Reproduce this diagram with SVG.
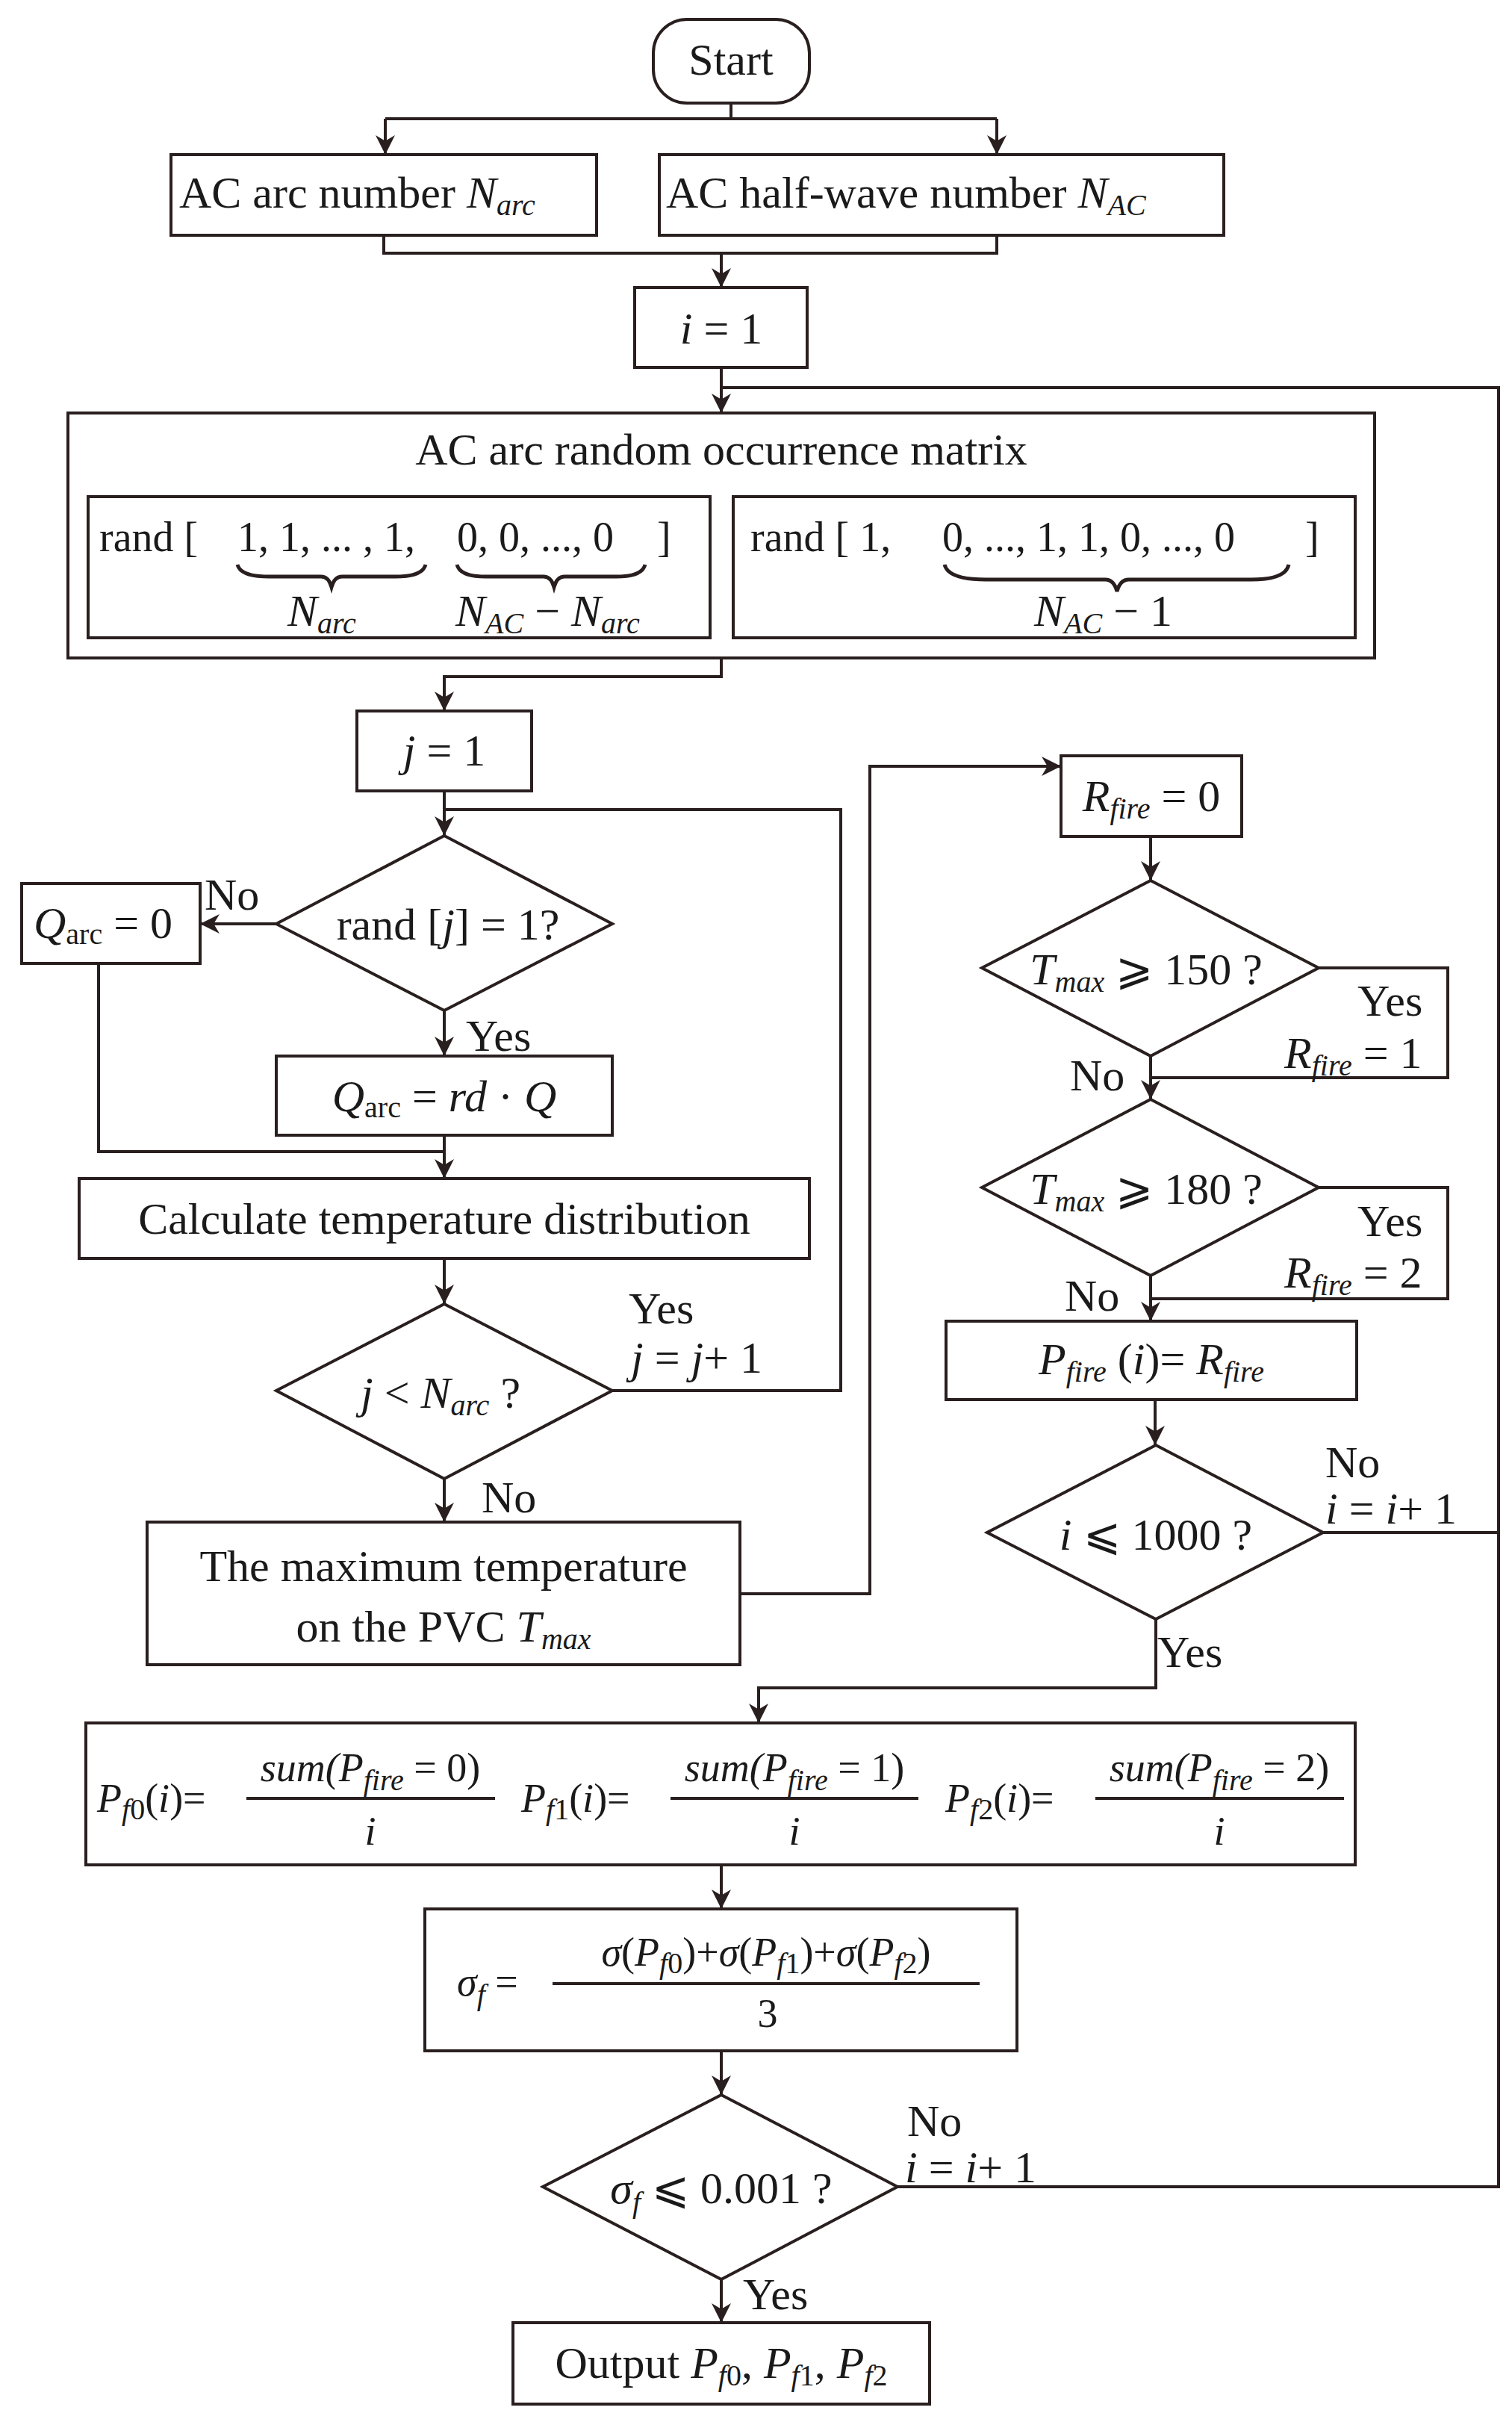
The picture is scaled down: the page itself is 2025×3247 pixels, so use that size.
<svg xmlns="http://www.w3.org/2000/svg" width="2025" height="3247" viewBox="0 0 2025 3247">
<defs>
<marker id="ah" viewBox="0 0 10 10" refX="10" refY="5" markerWidth="26" markerHeight="26" markerUnits="userSpaceOnUse" orient="auto"><path d="M0,0 L10,5 L0,10 L3,5 z" fill="#2a1f1f"/></marker>
<style>
.b{fill:#fff;stroke:#2a1f1f;stroke-width:4}
.c{fill:none;stroke:#2a1f1f;stroke-width:4}
.l{fill:none;stroke:#2a1f1f;stroke-width:4}
text{font-family:"Liberation Serif","Times New Roman",serif;font-size:60px;fill:#1a1a1a}
.m{text-anchor:middle}
.i{font-style:italic}
.s{font-size:40px;font-style:italic}
.f{font-size:54px}
</style>
</defs>
<g id="connectors">
<path class="l" d="M979,138 V159 M516,159 H1335"/>
<path class="c" marker-end="url(#ah)" d="M516,159 V207"/>
<path class="c" marker-end="url(#ah)" d="M1335,159 V207"/>
<path class="l" d="M514,315 V339 H1335 V315"/>
<path class="c" marker-end="url(#ah)" d="M966,339 V385"/>
<path class="c" marker-end="url(#ah)" d="M966,492 V553"/>
<path class="l" d="M966,519 H2007 V2928 H1202"/>
<path class="l" d="M1772,2052 H2007"/>
<path class="c" marker-end="url(#ah)" d="M966,881 V906 H595 V952"/>
<path class="c" marker-end="url(#ah)" d="M595,1059 V1119"/>
<path class="l" d="M595,1084 H1126 V1862 H820"/>
<path class="c" marker-end="url(#ah)" d="M370,1237 H268"/>
<path class="c" marker-end="url(#ah)" d="M595,1353 V1414"/>
<path class="l" d="M132,1290 V1542 H595"/>
<path class="c" marker-end="url(#ah)" d="M595,1520 V1578"/>
<path class="c" marker-end="url(#ah)" d="M595,1685 V1746"/>
<path class="c" marker-end="url(#ah)" d="M595,1980 V2038"/>
<path class="c" marker-end="url(#ah)" d="M991,2134 H1165 V1026 H1421"/>
<path class="c" marker-end="url(#ah)" d="M1541,1120 V1179"/>
<path class="c" marker-end="url(#ah)" d="M1541,1414 V1472"/>
<path class="l" d="M1766,1296 H1939 V1443 H1541"/>
<path class="c" marker-end="url(#ah)" d="M1541,1708 V1769"/>
<path class="l" d="M1766,1590 H1939 V1739 H1541"/>
<path class="c" marker-end="url(#ah)" d="M1547,1874 V1935"/>
<path class="c" marker-end="url(#ah)" d="M1548,2168 V2260 H1016 V2307"/>
<path class="c" marker-end="url(#ah)" d="M966,2497 V2556"/>
<path class="c" marker-end="url(#ah)" d="M966,2746 V2805"/>
<path class="c" marker-end="url(#ah)" d="M966,3052 V3110"/>
</g>
<g id="start"><rect class="b" x="875" y="26" width="209" height="112" rx="45"/><text class="m" x="979" y="100">Start</text></g>
<g id="narc"><rect class="b" x="229" y="207" width="570" height="108"/><text x="240" y="278">AC arc number <tspan class="i">N</tspan><tspan class="s" dy="10">arc</tspan></text></g>
<g id="nac"><rect class="b" x="883" y="207" width="756" height="108"/><text x="892" y="278">AC half-wave number <tspan class="i">N</tspan><tspan class="s" dy="10">AC</tspan></text></g>
<g id="i1"><rect class="b" x="850" y="385" width="231" height="107"/><text class="m" x="966" y="460"><tspan class="i">i</tspan> = 1</text></g>
<g id="matrix"><rect class="b" x="91" y="553" width="1750" height="328"/>
<text class="m" x="966" y="622">AC arc random occurrence matrix</text>
<rect class="b" x="118" y="665" width="833" height="189"/>
<rect class="b" x="982" y="665" width="833" height="189"/>
<text x="133" y="738" style="font-size:56px">rand [<tspan x="318">1, 1, ... , 1,</tspan><tspan x="612">0, 0, ..., 0</tspan><tspan x="880">]</tspan></text>
<text x="1005" y="738" style="font-size:56px">rand [ 1,<tspan x="1262">0, ..., 1, 1, 0, ..., 0</tspan><tspan x="1748">]</tspan></text>
<path class="l" style="stroke-width:5" d="M318,756 Q322,772 360,772 H430 Q440,772 444,786 Q448,772 458,772 H530 Q566,772 570,756 M612,756 Q616,772 650,772 H728 Q738,772 742,786 Q746,772 756,772 H826 Q860,772 864,756 M1265,756 Q1270,776 1320,776 H1480 Q1492,776 1496,792 Q1500,776 1512,776 H1676 Q1722,776 1726,756"/>
<text x="385" y="838" class="i">N<tspan class="s" dy="10">arc</tspan></text>
<text x="610" y="838"><tspan class="i">N</tspan><tspan class="s" dy="10">AC</tspan><tspan dy="-10"> − </tspan><tspan class="i">N</tspan><tspan class="s" dy="10">arc</tspan></text>
<text x="1385" y="838"><tspan class="i">N</tspan><tspan class="s" dy="10">AC</tspan><tspan dy="-10"> − 1</tspan></text>
</g>
<g id="j1"><rect class="b" x="478" y="952" width="234" height="107"/><text class="m" x="595" y="1025"><tspan class="i">j</tspan> = 1</text></g>
<g id="randj"><path class="b" d="M595,1119 L820,1237 L595,1353 L370,1237 z"/><text class="m" x="600" y="1258">rand [<tspan class="i">j</tspan>] = 1?</text></g>
<text x="274" y="1218">No</text>
<text x="624" y="1407">Yes</text>
<g id="q0"><rect class="b" x="29" y="1183" width="239" height="107"/><text x="45" y="1256"><tspan class="i">Q</tspan><tspan style="font-size:40px" dy="8">arc</tspan><tspan dy="-8"> = 0</tspan></text></g>
<g id="qrd"><rect class="b" x="370" y="1414" width="450" height="106"/><text class="m" x="595" y="1488"><tspan class="i">Q</tspan><tspan style="font-size:40px" dy="8">arc</tspan><tspan dy="-8"> = </tspan><tspan class="i">rd</tspan> · <tspan class="i">Q</tspan></text></g>
<g id="calc"><rect class="b" x="106" y="1578" width="978" height="107"/><text class="m" x="595" y="1652">Calculate temperature distribution</text></g>
<g id="jlt"><path class="b" d="M595,1746 L820,1862 L595,1980 L370,1862 z"/><text class="m" x="590" y="1885"><tspan class="i">j</tspan> &lt; <tspan class="i">N</tspan><tspan class="s" dy="10">arc</tspan><tspan dy="-10"> ?</tspan></text></g>
<text x="842" y="1772">Yes</text>
<text x="845" y="1838"><tspan class="i">j</tspan> = <tspan class="i">j</tspan>+ 1</text>
<text x="645" y="2025">No</text>
<g id="tmax"><rect class="b" x="197" y="2038" width="794" height="191"/><text class="m" x="594" y="2117">The maximum temperature</text><text class="m" x="594" y="2198">on the PVC <tspan class="i">T</tspan><tspan class="s" dy="10">max</tspan></text></g>
<g id="rfire0"><rect class="b" x="1421" y="1012" width="242" height="108"/><text class="m" x="1542" y="1086"><tspan class="i">R</tspan><tspan class="s" dy="10">fire</tspan><tspan dy="-10"> = 0</tspan></text></g>
<g id="t150"><path class="b" d="M1541,1179 L1766,1296 L1541,1414 L1315,1296 z"/><text class="m" x="1535" y="1318"><tspan class="i">T</tspan><tspan class="s" dy="10">max</tspan><tspan dy="-10"> ⩾ 150 ?</tspan></text></g>
<text x="1818" y="1360">Yes</text>
<text x="1720" y="1430"><tspan class="i">R</tspan><tspan class="s" dy="10">fire</tspan><tspan dy="-10"> = 1</tspan></text>
<text x="1433" y="1460">No</text>
<g id="t180"><path class="b" d="M1541,1472 L1766,1590 L1541,1708 L1315,1590 z"/><text class="m" x="1535" y="1612"><tspan class="i">T</tspan><tspan class="s" dy="10">max</tspan><tspan dy="-10"> ⩾ 180 ?</tspan></text></g>
<text x="1818" y="1655">Yes</text>
<text x="1720" y="1724"><tspan class="i">R</tspan><tspan class="s" dy="10">fire</tspan><tspan dy="-10"> = 2</tspan></text>
<text x="1426" y="1755">No</text>
<g id="pfire"><rect class="b" x="1267" y="1769" width="550" height="105"/><text class="m" x="1542" y="1840"><tspan class="i">P</tspan><tspan class="s" dy="10">fire</tspan><tspan dy="-10"> (</tspan><tspan class="i">i</tspan>)= <tspan class="i">R</tspan><tspan class="s" dy="10">fire</tspan></text></g>
<g id="i1000"><path class="b" d="M1548,1935 L1772,2052 L1548,2168 L1322,2052 z"/><text class="m" x="1548" y="2075"><tspan class="i">i</tspan> ⩽ 1000 ?</text></g>
<text x="1775" y="1978">No</text>
<text x="1775" y="2040"><tspan class="i">i</tspan> = <tspan class="i">i</tspan>+ 1</text>
<text x="1550" y="2232">Yes</text>
<g id="pf"><rect class="b" x="115" y="2307" width="1700" height="190"/>
<text class="f" x="130" y="2426"><tspan class="i">P</tspan><tspan class="s" dy="10">f</tspan><tspan style="font-size:40px">0</tspan><tspan dy="-10">(</tspan><tspan class="i">i</tspan>)=</text>
<text class="f m i" x="496" y="2385">sum(P<tspan class="s" dy="12">fire</tspan><tspan dy="-12" style="font-style:normal"> = 0)</tspan></text>
<path class="l" d="M330,2408 H663"/><text class="f m i" x="496" y="2470">i</text>
<text class="f" x="698" y="2426"><tspan class="i">P</tspan><tspan class="s" dy="10">f</tspan><tspan style="font-size:40px">1</tspan><tspan dy="-10">(</tspan><tspan class="i">i</tspan>)=</text>
<text class="f m i" x="1064" y="2385">sum(P<tspan class="s" dy="12">fire</tspan><tspan dy="-12" style="font-style:normal"> = 1)</tspan></text>
<path class="l" d="M898,2408 H1230"/><text class="f m i" x="1064" y="2470">i</text>
<text class="f" x="1266" y="2426"><tspan class="i">P</tspan><tspan class="s" dy="10">f</tspan><tspan style="font-size:40px">2</tspan><tspan dy="-10">(</tspan><tspan class="i">i</tspan>)=</text>
<text class="f m i" x="1633" y="2385">sum(P<tspan class="s" dy="12">fire</tspan><tspan dy="-12" style="font-style:normal"> = 2)</tspan></text>
<path class="l" d="M1467,2408 H1800"/><text class="f m i" x="1633" y="2470">i</text>
</g>
<g id="sigma"><rect class="b" x="569" y="2556" width="793" height="190"/>
<text class="f" x="612" y="2672"><tspan class="i">σ</tspan><tspan class="s" dy="12">f</tspan><tspan dy="-12"> =</tspan></text>
<text class="f m" x="1026" y="2632"><tspan class="i">σ</tspan>(<tspan class="i">P</tspan><tspan class="s" dy="10">f</tspan><tspan style="font-size:40px">0</tspan><tspan dy="-10">)+</tspan><tspan class="i">σ</tspan>(<tspan class="i">P</tspan><tspan class="s" dy="10">f</tspan><tspan style="font-size:40px">1</tspan><tspan dy="-10">)+</tspan><tspan class="i">σ</tspan>(<tspan class="i">P</tspan><tspan class="s" dy="10">f</tspan><tspan style="font-size:40px">2</tspan><tspan dy="-10">)</tspan></text>
<path class="l" d="M740,2656 H1312"/><text class="f m" x="1028" y="2714">3</text>
</g>
<g id="conv"><path class="b" d="M966,2805 L1202,2928 L966,3052 L727,2928 z"/><text class="m" x="966" y="2950"><tspan class="i">σ</tspan><tspan class="s" dy="12">f</tspan><tspan dy="-12"> ⩽ 0.001 ?</tspan></text></g>
<text x="1215" y="2860">No</text>
<text x="1212" y="2922"><tspan class="i">i</tspan> = <tspan class="i">i</tspan>+ 1</text>
<text x="995" y="3092">Yes</text>
<g id="output"><rect class="b" x="687" y="3110" width="558" height="109"/><text class="m" x="966" y="3184">Output <tspan class="i">P</tspan><tspan class="s" dy="10">f</tspan><tspan style="font-size:40px">0</tspan><tspan dy="-10">, </tspan><tspan class="i">P</tspan><tspan class="s" dy="10">f</tspan><tspan style="font-size:40px">1</tspan><tspan dy="-10">, </tspan><tspan class="i">P</tspan><tspan class="s" dy="10">f</tspan><tspan style="font-size:40px">2</tspan></text></g>
</svg>
